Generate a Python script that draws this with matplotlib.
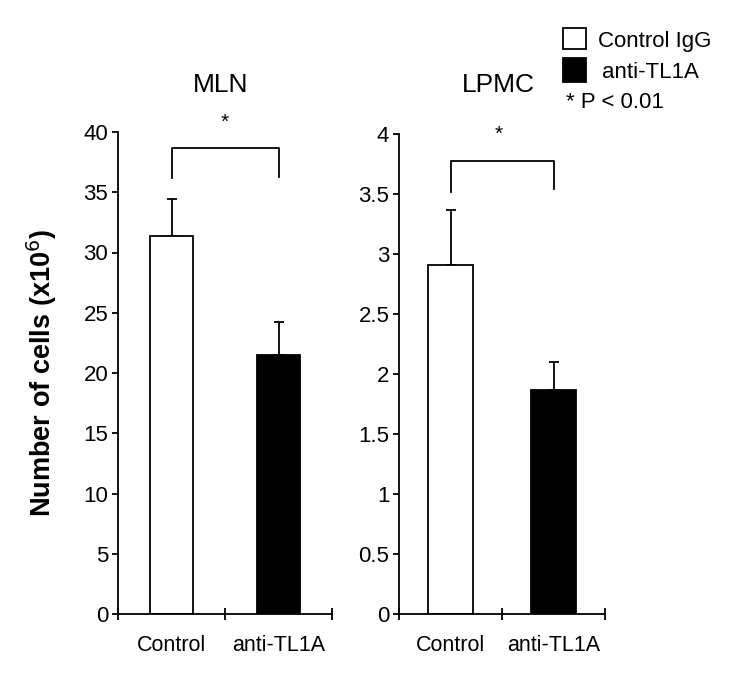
import matplotlib
matplotlib.use("Agg")
import matplotlib.pyplot as plt
from matplotlib.patches import Rectangle

plt.rcParams['font.family'] = ['Liberation Sans', 'DejaVu Sans']

categories = ["Control", "anti-TL1A"]
groups = ["Control IgG", "anti-TL1A"]
mln_values = [31.4, 21.5]
mln_errors = [3.0, 2.7]
lpmc_values = [2.91, 1.87]
lpmc_errors = [0.46, 0.23]
panel_titles = ["MLN", "LPMC"]
mln_ticks = [0, 5, 10, 15, 20, 25, 30, 35, 40]
lpmc_ticks = [0, 0.5, 1, 1.5, 2, 2.5, 3, 3.5, 4]
mln_bracket = [38.7, 36.2, 36.3]
lpmc_bracket = [3.775, 3.52, 3.54]
pvalue_text = "* P < 0.01"

W, H = 750, 683
fig = plt.figure(figsize=(W / 100, H / 100), dpi=100)

def ax_rect(x0, x1, y_top, y_bot):
    return [x0 / W, 1 - y_bot / H, (x1 - x0) / W, (y_bot - y_top) / H]

ax1 = fig.add_axes(ax_rect(118, 332, 132, 614))
ax2 = fig.add_axes(ax_rect(399, 605, 134, 614))

colors = ["white", "black"]

def draw_panel(ax, values, errors, ticks, ymax, bracket, width, ticklabels):
    x = [0, 1]
    ax.bar(x, values, width=width, color=colors, edgecolor="black", linewidth=1.3, zorder=2)
    ax.errorbar(x, values, yerr=[[0, 0], errors], fmt="none", ecolor="black",
                elinewidth=1.3, capsize=3.5, capthick=1.3, zorder=1)
    ax.set_xlim(-0.5, 1.5)
    ax.set_ylim(0, ymax)
    ax.set_yticks(ticks)
    ax.set_yticklabels(ticklabels, fontsize=16)
    ax.set_xticks([-0.5, 0.5, 1.5])
    ax.set_xticklabels([])
    ax.set_xticks([0, 1], minor=True)
    ax.set_xticklabels(categories, minor=True, fontsize=15.5)
    ax.tick_params(axis="x", which="major", direction="inout", length=8, width=1.3)
    ax.tick_params(axis="x", which="minor", length=0, pad=15)
    ax.tick_params(axis="y", direction="out", length=4, width=1.3, pad=3)
    for s in ["top", "right"]:
        ax.spines[s].set_visible(False)
    for s in ["left", "bottom"]:
        ax.spines[s].set_linewidth(1.3)
    top, l_bot, r_bot = bracket
    ax.plot([0, 0, 1, 1], [l_bot, top, top, r_bot], color="black", lw=1.3, clip_on=False)

draw_panel(ax1, mln_values, mln_errors, mln_ticks, 40, mln_bracket,
           0.41, [str(t) for t in mln_ticks])
draw_panel(ax2, lpmc_values, lpmc_errors, lpmc_ticks, 4, lpmc_bracket,
           0.43, ["0", "0.5", "1", "1.5", "2", "2.5", "3", "3.5", "4"])

fig.text(221 / W, 1 - 85 / H, panel_titles[0], ha="center", va="center", fontsize=19)
fig.text(498 / W, 1 - 85 / H, panel_titles[1], ha="center", va="center", fontsize=19)

fig.text(225 / W, 1 - 122 / H, "*", ha="center", va="center", fontsize=15)
fig.text(499 / W, 1 - 134 / H, "*", ha="center", va="center", fontsize=15)

fig.text(42 / W, 1 - 373 / H, r"Number of cells (x10$^{6}$)", rotation=90,
         ha="center", va="center", fontsize=19.5, fontweight="bold")

# legend
fig.patches.append(Rectangle((563 / W, 1 - 49 / H), 23 / W, 21 / H, transform=fig.transFigure,
                             facecolor="white", edgecolor="black", linewidth=1.3))
fig.patches.append(Rectangle((563 / W, 1 - 82 / H), 23 / W, 24 / H, transform=fig.transFigure,
                             facecolor="black", edgecolor="black", linewidth=1.3))
fig.text(598 / W, 1 - 41 / H, groups[0], ha="left", va="center", fontsize=16)
fig.text(602 / W, 1 - 72 / H, groups[1], ha="left", va="center", fontsize=16)
fig.text(566 / W, 1 - 102 / H, pvalue_text, ha="left", va="center", fontsize=16)

fig.savefig("out.png", dpi=100)
